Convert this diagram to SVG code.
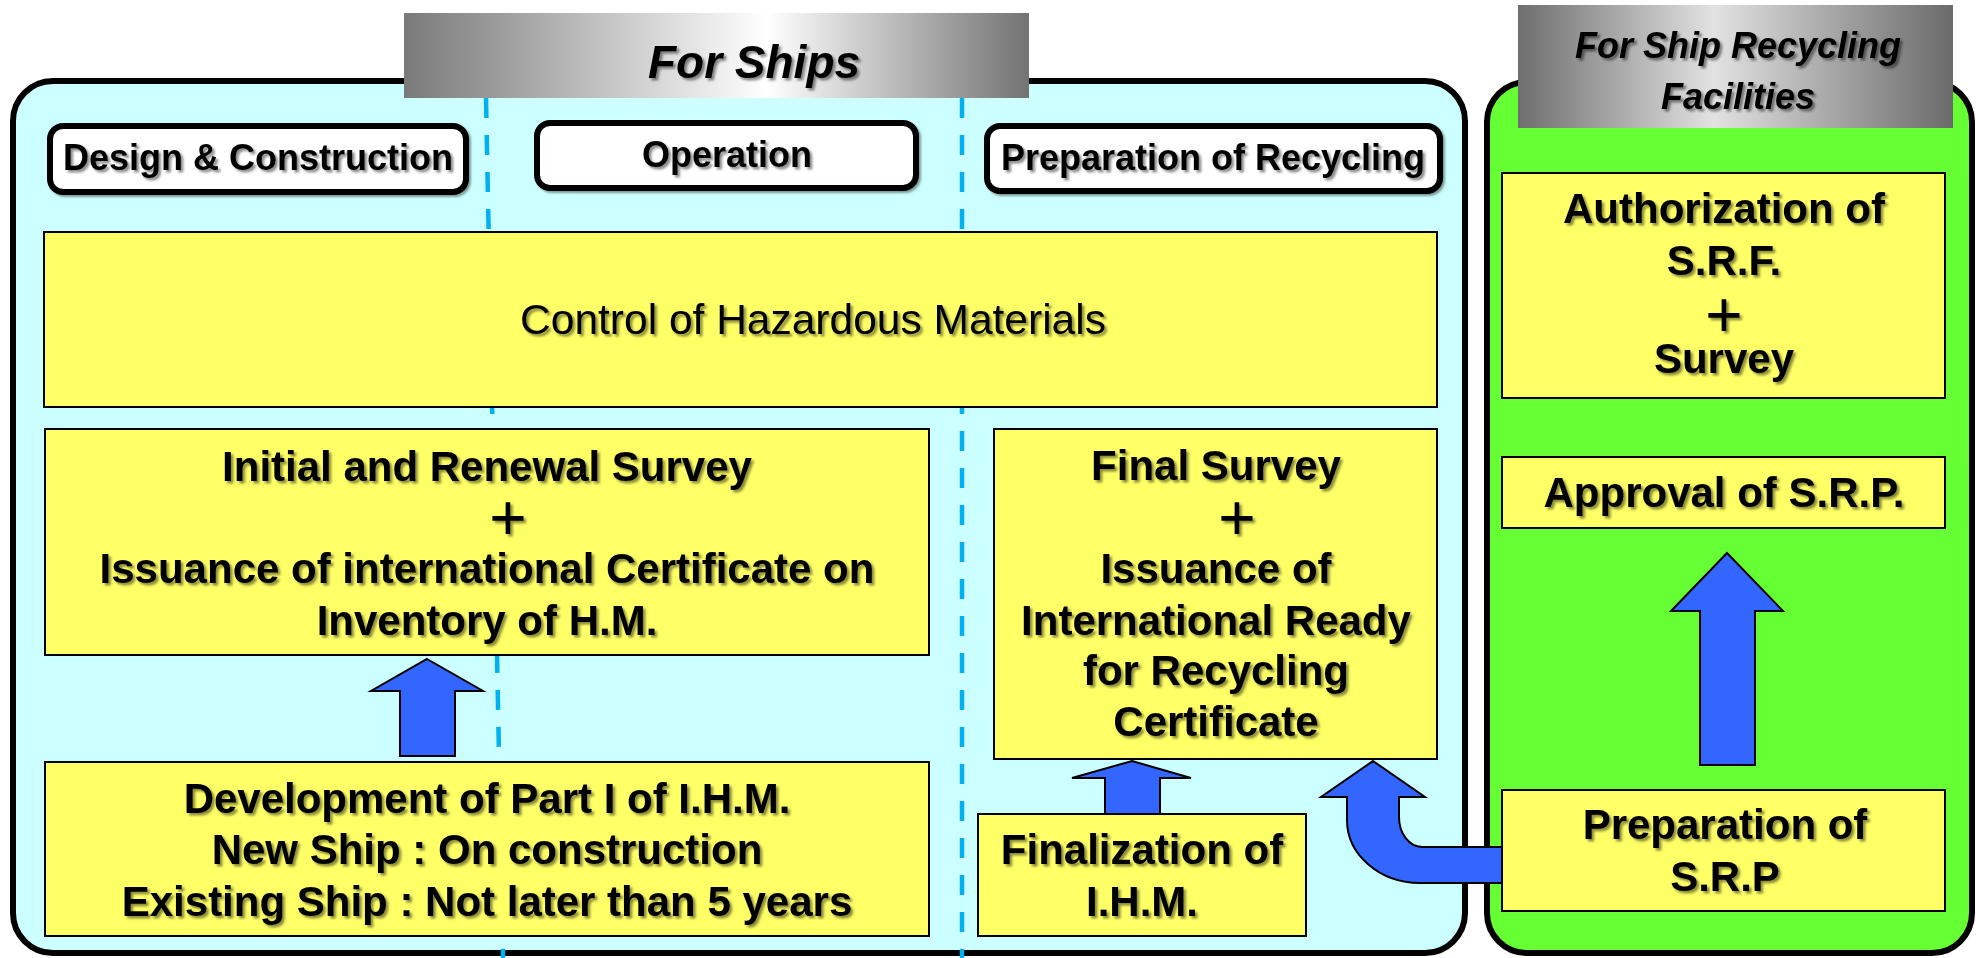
<svg xmlns="http://www.w3.org/2000/svg" width="1976" height="958" viewBox="0 0 1976 958">
<defs>
<linearGradient id="hdr" x1="0" y1="0" x2="1" y2="0">
<stop offset="0" stop-color="#7a7a7a"/>
<stop offset="0.58" stop-color="#ffffff"/>
<stop offset="1" stop-color="#737373"/>
</linearGradient>
<linearGradient id="hdr2" x1="0" y1="0" x2="1" y2="0">
<stop offset="0" stop-color="#6e6e6e"/>
<stop offset="0.45" stop-color="#e2e2e2"/>
<stop offset="1" stop-color="#6a6a6a"/>
</linearGradient>
<filter id="ts" x="-5%" y="-20%" width="110%" height="140%">
<feDropShadow dx="2.5" dy="2.5" stdDeviation="1" flood-color="#000" flood-opacity="0.45"/>
</filter>
<filter id="bs" x="-5%" y="-10%" width="110%" height="125%">
<feDropShadow dx="2" dy="2" stdDeviation="1.2" flood-color="#000" flood-opacity="0.4"/>
</filter>
</defs>
<style>
.frame{stroke:#000;stroke-width:6}
.tab{fill:#fff;stroke:#000;stroke-width:6}
.box{fill:#ffff66;stroke:#000;stroke-width:2}
.t{font-family:"Liberation Sans",Arial,sans-serif;font-weight:bold;font-size:42px;fill:#000;text-anchor:middle;filter:url(#ts)}
.tt{font-size:36px}
.reg{font-weight:normal;font-size:42.5px}
.plus{font-weight:normal;font-size:64px}
.hd{font-style:italic;font-weight:bold}
.dash{stroke:#00b0f0;stroke-width:4.5;stroke-dasharray:20 17;fill:none}
.arr{fill:#3366ff;stroke:#000;stroke-width:2;stroke-linejoin:miter}
</style>

<g id="ships-area">
<rect class="frame" x="13" y="81" width="1452" height="872" rx="40" fill="#ccffff"/>
<line class="dash" x1="486" y1="98" x2="503" y2="958"/>
<line class="dash" x1="962" y1="98" x2="962" y2="958"/>
</g>
<g id="facilities-area">
<rect class="frame" x="1487" y="82" width="485" height="871" rx="40" fill="#66ff33"/>
</g>

<g id="header-ships">
<rect x="404" y="13" width="625" height="85" fill="url(#hdr)"/>
<text class="t hd" x="754" y="78" style="font-size:46px">For Ships</text>
</g>
<g id="header-facilities">
<rect x="1518" y="5" width="435" height="123" fill="url(#hdr2)"/>
<text class="t hd" x="1738" y="58" style="font-size:36px">For Ship Recycling</text>
<text class="t hd" x="1738" y="109" style="font-size:36px">Facilities</text>
</g>

<g id="tab-design">
<rect class="tab" x="50" y="126" width="416" height="66" rx="13" filter="url(#bs)"/>
<text class="t tt" x="258" y="170">Design &amp; Construction</text>
</g>
<g id="tab-operation">
<rect class="tab" x="537" y="123" width="379" height="65" rx="13" filter="url(#bs)"/>
<text class="t tt" x="727" y="167">Operation</text>
</g>
<g id="tab-preparation">
<rect class="tab" x="987" y="126" width="453" height="65" rx="13" filter="url(#bs)"/>
<text class="t tt" x="1213" y="170">Preparation of Recycling</text>
</g>

<g id="control">
<rect class="box" x="44" y="232" width="1393" height="175"/>
<text class="t reg" x="813" y="334">Control of Hazardous Materials</text>
</g>
<g id="initial-survey">
<rect class="box" x="45" y="429" width="884" height="226"/>
<text class="t" x="487" y="481">Initial and Renewal Survey</text>
<text class="t plus" x="508" y="540">+</text>
<text class="t" x="487" y="583">Issuance of international Certificate on</text>
<text class="t" x="487" y="635">Inventory of H.M.</text>
</g>
<g id="development">
<rect class="box" x="45" y="762" width="884" height="174"/>
<text class="t" x="487" y="813">Development of Part I of I.H.M.</text>
<text class="t" x="487" y="864">New Ship : On construction</text>
<text class="t" x="487" y="916">Existing Ship : Not later than 5 years</text>
</g>
<g id="final-survey">
<rect class="box" x="994" y="429" width="443" height="330"/>
<text class="t" x="1216" y="480">Final Survey</text>
<text class="t plus" x="1237" y="540">+</text>
<text class="t" x="1216" y="583">Issuance of</text>
<text class="t" x="1216" y="635">International Ready</text>
<text class="t" x="1216" y="685">for Recycling</text>
<text class="t" x="1216" y="736">Certificate</text>
</g>
<g id="finalization">
<rect class="box" x="978" y="814" width="328" height="122"/>
<text class="t" x="1142" y="864">Finalization of</text>
<text class="t" x="1142" y="916">I.H.M.</text>
</g>
<g id="authorization">
<rect class="box" x="1502" y="173" width="443" height="225"/>
<text class="t" x="1724" y="223">Authorization of</text>
<text class="t" x="1724" y="275">S.R.F.</text>
<text class="t plus" x="1724" y="337">+</text>
<text class="t" x="1724" y="373">Survey</text>
</g>
<g id="approval">
<rect class="box" x="1502" y="457" width="443" height="71"/>
<text class="t" x="1724" y="507">Approval of S.R.P.</text>
</g>
<g id="preparation-srp">
<rect class="box" x="1502" y="790" width="443" height="121"/>
<text class="t" x="1725" y="839">Preparation of</text>
<text class="t" x="1725" y="891">S.R.P</text>
</g>

<g id="connectors">
<polygon class="arr" points="427,659 483,691 455,691 455,756 400,756 400,691 371,691"/>
<polygon class="arr" points="1132,761 1191,778 1160,778 1160,814 1105,814 1105,778 1072,778"/>
<polygon class="arr" points="1727,553 1783,611 1755,611 1755,765 1700,765 1700,611 1671,611"/>
<path class="arr" d="M1502,847 L1422,847 A23,30 0 0 1 1399,817 L1399,797 L1425,797 L1373,761 L1321,797 L1347,797 L1347,820 A73,63 0 0 0 1420,883 L1502,883 Z"/>
</g>
</svg>
